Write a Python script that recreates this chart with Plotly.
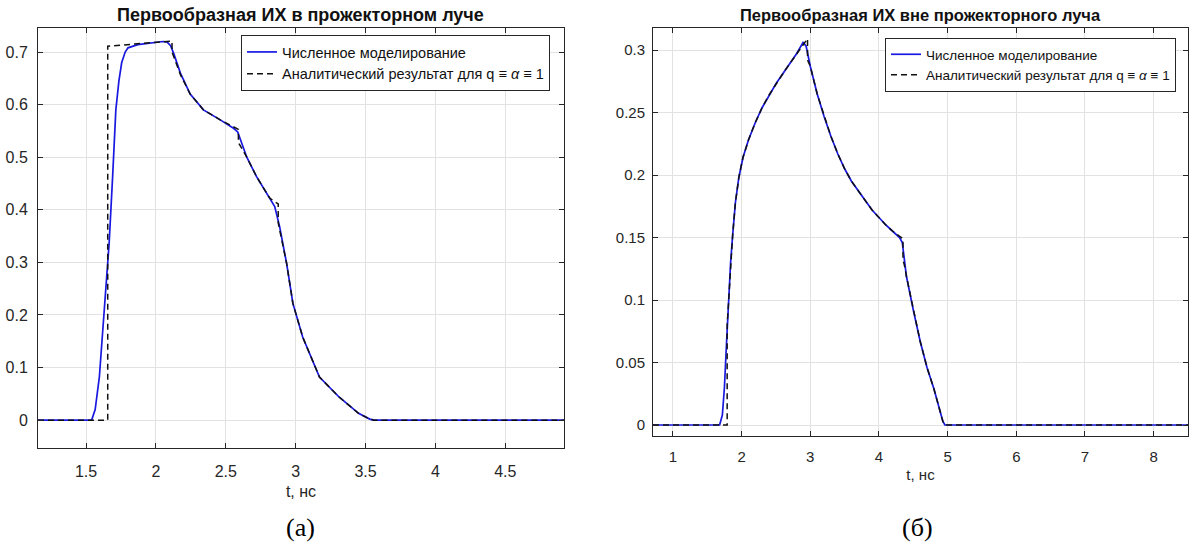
import plotly.graph_objects as go

# ---------------- data ----------------
# (a) inside the searchlight beam
t_num_a = [1.156, 1.54, 1.565, 1.595, 1.63, 1.665, 1.69, 1.713, 1.735, 1.755, 1.78, 1.80, 1.87, 1.96, 2.05,
           2.08, 2.105, 2.13, 2.175, 2.245, 2.34, 2.46, 2.555, 2.585, 2.61, 2.65, 2.72, 2.815, 2.85,
           2.885, 2.935, 2.98, 3.05, 3.17, 3.31, 3.45, 3.53, 3.56, 4.92]
y_num_a = [0.0, 0.0, 0.02, 0.082, 0.209, 0.336, 0.463, 0.59, 0.645, 0.68, 0.70, 0.708, 0.714, 0.717, 0.72,
           0.719, 0.712, 0.695, 0.66, 0.62, 0.59, 0.571, 0.555, 0.548, 0.53, 0.50, 0.463, 0.422, 0.406,
           0.368, 0.298, 0.222, 0.158, 0.082, 0.044, 0.013, 0.002, 0.0, 0.0]

t_an_a = [1.156, 1.655, 1.655, 2.115, 2.115, 2.13, 2.175, 2.245, 2.34, 2.46, 2.59, 2.59, 2.65, 2.72,
          2.815, 2.875, 2.875, 2.935, 2.98, 3.05, 3.17, 3.31, 3.45, 3.53, 3.56, 4.92]
y_an_a = [0.0, 0.0, 0.711, 0.721, 0.70, 0.69, 0.657, 0.62, 0.59, 0.571, 0.553, 0.528, 0.50, 0.463,
          0.422, 0.411, 0.375, 0.298, 0.222, 0.158, 0.082, 0.044, 0.013, 0.002, 0.0, 0.0]

# (б) outside the searchlight beam
t_num_b = [0.71, 1.68, 1.72, 1.75, 1.78, 1.81, 1.84, 1.87, 1.91, 1.96, 2.02, 2.10, 2.20, 2.30, 2.40,
           2.50, 2.60, 2.70, 2.80, 2.895, 2.94, 3.00, 3.10, 3.20, 3.30, 3.40, 3.50, 3.60, 3.70, 3.80,
           3.90, 4.00, 4.10, 4.20, 4.30, 4.34, 4.37, 4.40, 4.50, 4.60, 4.70, 4.80, 4.88, 4.93, 4.96, 8.5]
y_num_b = [0.0, 0.0, 0.008, 0.03, 0.065, 0.10, 0.13, 0.152, 0.178, 0.198, 0.214, 0.228, 0.242, 0.254, 0.264,
           0.273, 0.281, 0.289, 0.297, 0.306, 0.303, 0.287, 0.265, 0.247, 0.231, 0.217, 0.205, 0.195, 0.187, 0.179,
           0.172, 0.166, 0.160, 0.155, 0.150, 0.146, 0.130, 0.119, 0.092, 0.067, 0.046, 0.029, 0.013, 0.003, 0.0, 0.0]

t_an_b = [0.71, 1.79, 1.79, 1.81, 1.84, 1.87, 1.91, 1.96, 2.02, 2.10, 2.20, 2.30, 2.40, 2.50, 2.60, 2.70,
          2.80, 2.90, 2.96, 2.96, 3.00, 3.10, 3.20, 3.30, 3.40, 3.50, 3.60, 3.70, 3.80, 3.90, 4.00, 4.10,
          4.20, 4.30, 4.35, 4.35, 4.37, 4.40, 4.50, 4.60, 4.70, 4.80, 4.88, 4.93, 4.96, 8.5]
y_an_b = [0.0, 0.0, 0.08, 0.10, 0.13, 0.152, 0.178, 0.198, 0.214, 0.228, 0.242, 0.254, 0.264, 0.273, 0.281, 0.289,
          0.297, 0.304, 0.309, 0.292, 0.287, 0.265, 0.247, 0.231, 0.217, 0.205, 0.195, 0.187, 0.179, 0.172, 0.166, 0.160,
          0.155, 0.151, 0.149, 0.132, 0.128, 0.119, 0.092, 0.067, 0.046, 0.029, 0.013, 0.003, 0.0, 0.0]

x_ticks_a = [1.5, 2, 2.5, 3, 3.5, 4, 4.5]
y_ticks_a = [0, 0.1, 0.2, 0.3, 0.4, 0.5, 0.6, 0.7]
x_ticks_b = [1, 2, 3, 4, 5, 6, 7, 8]
y_ticks_b = [0, 0.05, 0.1, 0.15, 0.2, 0.25, 0.3]

title_a = "Первообразная ИХ в прожекторном луче"
title_b = "Первообразная ИХ вне прожекторного луча"
name_num = "Численное моделирование"
name_an = "Аналитический результат для q ≡ <i>α</i> ≡ 1"
xlabel = "t, нс"
caption_a = "(a)"
caption_b = "(б)"

# ---------------- figure ----------------
W, H = 1190, 542
BLUE = "#1818e0"
AX = "#262626"
GRID = "#e2e2e2"
FONT = "Liberation Sans, Arial, sans-serif"
SERIF = "Liberation Serif, Times New Roman, serif"

fig = go.Figure()
fig.add_trace(go.Scatter(x=t_num_a, y=y_num_a, mode="lines", name=name_num,
                         line=dict(color=BLUE, width=1.7), xaxis="x", yaxis="y", legend="legend"))
fig.add_trace(go.Scatter(x=t_an_a, y=y_an_a, mode="lines", name=name_an,
                         line=dict(color="#111111", width=1.5, dash="6px,4px"), xaxis="x", yaxis="y", legend="legend"))
fig.add_trace(go.Scatter(x=t_num_b, y=y_num_b, mode="lines", name=name_num,
                         line=dict(color=BLUE, width=1.7), xaxis="x2", yaxis="y2", legend="legend2"))
fig.add_trace(go.Scatter(x=t_an_b, y=y_an_b, mode="lines", name=name_an,
                         line=dict(color="#111111", width=1.5, dash="6px,4px"), xaxis="x2", yaxis="y2", legend="legend2"))


def px(x):
    return x / W


def py(y):
    return 1 - y / H


def axis_style(fs):
    return dict(showline=True, linecolor=AX, linewidth=1, mirror="ticks", ticks="inside",
                ticklen=5, tickcolor=AX, showgrid=True, gridcolor=GRID, gridwidth=1,
                zeroline=False, tickfont=dict(family=FONT, size=fs, color=AX))


fig.update_layout(
    width=W, height=H, margin=dict(l=0, r=0, t=0, b=0),
    paper_bgcolor="white", plot_bgcolor="white", font=dict(family=FONT, color=AX),
    xaxis=dict(domain=[px(38), px(564)], range=[1.156, 4.92], tickvals=x_ticks_a, anchor="y",
               ticklabelstandoff=9,
               title=dict(text=xlabel, font=dict(size=16, color=AX), standoff=6), **axis_style(16)),
    yaxis=dict(domain=[py(448), py(28)], range=[-0.053, 0.7457], tickvals=y_ticks_a, anchor="x",
               ticklabelstandoff=6, **axis_style(16)),
    xaxis2=dict(domain=[px(653), px(1188)], range=[0.71, 8.5], tickvals=x_ticks_b, anchor="y2",
                ticklabelstandoff=7,
                title=dict(text=xlabel, font=dict(size=15, color=AX), standoff=5), **axis_style(15)),
    yaxis2=dict(domain=[py(436), py(28)], range=[-0.0088, 0.3176], tickvals=y_ticks_b, anchor="x2",
                ticklabelstandoff=4, **axis_style(15)),
    legend=dict(x=px(550), y=py(35), xanchor="right", yanchor="top", bgcolor="white",
                bordercolor=AX, borderwidth=1, font=dict(family=FONT, size=14.5, color="#111111"),
                tracegroupgap=0, itemwidth=30),
    legend2=dict(x=px(1176), y=py(38), xanchor="right", yanchor="top", bgcolor="white",
                 bordercolor=AX, borderwidth=1, font=dict(family=FONT, size=13.5, color="#111111"),
                 tracegroupgap=0, itemwidth=30),
    annotations=[
        dict(text="<b>" + title_a + "</b>", x=px(300), y=py(15), xref="paper", yref="paper",
             xanchor="center", yanchor="middle", showarrow=False,
             font=dict(family=FONT, size=18, color="#111111")),
        dict(text="<b>" + title_b + "</b>", x=px(920), y=py(15), xref="paper", yref="paper",
             xanchor="center", yanchor="middle", showarrow=False,
             font=dict(family=FONT, size=16.5, color="#111111")),
        dict(text=caption_a, x=px(300), y=py(527), xref="paper", yref="paper",
             xanchor="center", yanchor="middle", showarrow=False,
             font=dict(family=SERIF, size=26, color="#000000")),
        dict(text=caption_b, x=px(917), y=py(527), xref="paper", yref="paper",
             xanchor="center", yanchor="middle", showarrow=False,
             font=dict(family=SERIF, size=26, color="#000000")),
    ],
)

fig.write_html("out.html", config={"displayModeBar": False},
               post_script="document.body.style.margin='0px';document.body.style.overflow='hidden';")
